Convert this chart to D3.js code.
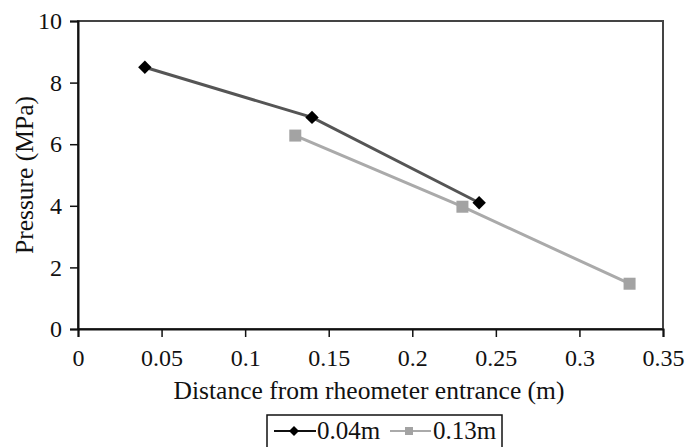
<!DOCTYPE html>
<html>
<head>
<meta charset="utf-8">
<script src="https://cdn.jsdelivr.net/npm/d3@7"></script>
<style>
  body { margin: 0; background: #fff; }
  text { font-family: "Liberation Serif", "Times New Roman", serif; fill: #111; }
</style>
</head>
<body>
<div id="chart"></div>
<script>
// data
var seriesNames = ["0.04m", "0.13m"];
var distA = [0.04, 0.14, 0.24];
var pressA = [8.5, 6.87, 4.1];
var distB = [0.13, 0.23, 0.33];
var pressB = [6.28, 3.97, 1.47];
var xTicks = [0, 0.05, 0.1, 0.15, 0.2, 0.25, 0.3, 0.35];
var yTicks = [0, 2, 4, 6, 8, 10];

var W = 686, H = 447;
var margin = {top: 21, right: 23, bottom: 118, left: 78};
var width = W - margin.left - margin.right,
    height = H - margin.top - margin.bottom;

var svg = d3.select("#chart").append("svg").attr("width", W).attr("height", H);
var g = svg.append("g").attr("transform", "translate(" + margin.left + "," + margin.top + ")");

var x = d3.scaleLinear().domain([0, 0.35]).range([0, width]);
var y = d3.scaleLinear().domain([0, 10]).range([height, 0]);

// frame
g.append("rect").attr("x", 0).attr("y", 0).attr("width", width).attr("height", height)
  .attr("fill", "none").attr("stroke", "#444").attr("stroke-width", 2);

// axes
var xa = g.append("g").attr("transform", "translate(0," + height + ")")
  .call(d3.axisBottom(x).tickValues(xTicks).tickSize(8).tickPadding(12).tickFormat(function(d){ return String(+d.toFixed(2)); }));
var ya = g.append("g")
  .call(d3.axisLeft(y).tickValues(yTicks).tickSize(8).tickPadding(8));
[xa, ya].forEach(function(a){
  a.attr("font-family", "Liberation Serif").attr("font-size", 24);
  a.select(".domain").attr("stroke", "#111").attr("stroke-width", 2);
  a.selectAll(".tick line").attr("stroke", "#111").attr("stroke-width", 1.5);
  a.selectAll(".tick text").attr("fill", "#111");
});

// axis titles
svg.append("text").attr("x", 369).attr("y", 399).attr("text-anchor", "middle")
  .style("font-size", "25.5px").text("Distance from rheometer entrance (m)");
svg.append("text").attr("transform", "translate(33,175) rotate(-90)").attr("text-anchor", "middle")
  .style("font-size", "25.5px").text("Pressure (MPa)");

var line = d3.line().x(function(d){ return x(d[0]); }).y(function(d){ return y(d[1]); });
var ptsA = distA.map(function(d, i){ return [d, pressA[i]]; });
var ptsB = distB.map(function(d, i){ return [d, pressB[i]]; });

// series 0.13m (grey squares)
g.append("path").datum(ptsB).attr("d", line).attr("fill", "none").attr("stroke", "#aaa").attr("stroke-width", 3);
g.selectAll(".sq").data(ptsB).enter().append("rect").attr("class", "sq")
  .attr("x", function(d){ return x(d[0]) - 6; }).attr("y", function(d){ return y(d[1]) - 6; })
  .attr("width", 12).attr("height", 12).attr("fill", "#a3a3a3");

// series 0.04m (black diamonds)
g.append("path").datum(ptsA).attr("d", line).attr("fill", "none").attr("stroke", "#555").attr("stroke-width", 3);
g.selectAll(".dm").data(ptsA).enter().append("path").attr("class", "dm")
  .attr("transform", function(d){ return "translate(" + x(d[0]) + "," + y(d[1]) + ") rotate(45)"; })
  .attr("d", d3.symbol().type(d3.symbolSquare).size(90)).attr("fill", "#000");

// legend
var lg = svg.append("g");
lg.append("rect").attr("x", 267).attr("y", 415).attr("width", 235).attr("height", 40)
  .attr("fill", "#fff").attr("stroke", "#111").attr("stroke-width", 1.5);
lg.append("line").attr("x1", 274).attr("x2", 316).attr("y1", 431).attr("y2", 431).attr("stroke", "#111").attr("stroke-width", 2);
lg.append("path").attr("transform", "translate(294,431) rotate(45)")
  .attr("d", d3.symbol().type(d3.symbolSquare).size(50)).attr("fill", "#000");
lg.append("text").attr("x", 317).attr("y", 439).style("font-size", "25px").text(seriesNames[0]);
lg.append("line").attr("x1", 390).attr("x2", 431).attr("y1", 431).attr("y2", 431).attr("stroke", "#aaa").attr("stroke-width", 2);
lg.append("rect").attr("x", 405).attr("y", 427).attr("width", 8).attr("height", 8).attr("fill", "#a3a3a3");
lg.append("text").attr("x", 433).attr("y", 439).style("font-size", "25px").text(seriesNames[1]);
</script>
</body>
</html>
